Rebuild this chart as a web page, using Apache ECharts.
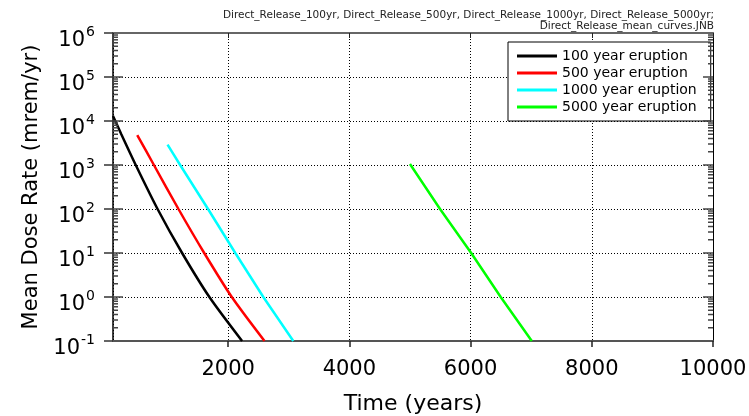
<!DOCTYPE html>
<html>
<head>
<meta charset="utf-8">
<script src="https://cdn.jsdelivr.net/npm/echarts@6/dist/echarts.min.js"></script>
<style>
html, body { margin: 0; padding: 0; background: #fff; }
#main { width: 749px; height: 416px; }
</style>
</head>
<body>
<div id="main"></div>
<script>
// curves: time (years) and mean dose rate (mrem/yr)
var names = ['100 year eruption', '500 year eruption', '1000 year eruption', '5000 year eruption'];
var colors = ['#000000', '#ff0000', '#00ffff', '#00ff00'];

var years100 = [100, 237, 475, 835, 1240, 1690, 2230];
var dose100 = [13000, 5000, 1000, 100, 10, 1, 0.1];

var years500 = [500, 775, 1180, 1605, 2060, 2600];
var dose500 = [4800, 1000, 100, 10, 1, 0.1];

var years1000 = [1000, 1208, 1668, 2118, 2580, 3075];
var dose1000 = [2900, 1000, 100, 10, 1, 0.1];

var years5000 = [5000, 5496, 6010, 6497, 7010];
var dose5000 = [1050, 100, 10, 1, 0.1];

var xMin = 100, xMax = 10000;
var yMin = 0.1, yMax = 1e6;

var header = 'Direct_Release_100yr, Direct_Release_500yr, Direct_Release_1000yr, Direct_Release_5000yr;\nDirect_Release_mean_curves.JNB';

// log minor ticks 2..9 in each decade, inner part of the major ticks
var decades = [-1, 0, 1, 2, 3, 4, 5];
var tickMarks = [];
decades.forEach(function (d) {
    var base = Math.pow(10, d);
    if (d >= 0) tickMarks.push([xMin, base, 10]);
    for (var k = 2; k <= 9; k++) tickMarks.push([xMin, k * base, 5]);
});

function pairs(xs, ys) {
    return xs.map(function (x, i) { return [x, ys[i]]; });
}

var font = 'DejaVu Sans';
var myChart = echarts.init(document.getElementById('main'));

var lineSeries = [
    pairs(years100, dose100),
    pairs(years500, dose500),
    pairs(years1000, dose1000),
    pairs(years5000, dose5000)
].map(function (d, i) {
    return {
        name: names[i],
        type: 'line',
        data: d,
        showSymbol: false,
        symbol: 'none',
        smooth: i < 2 ? 0.25 : false,
        color: colors[i],
        lineStyle: { color: colors[i], width: 2.5 },
        itemStyle: { color: colors[i] },
        z: 3
    };
});

var option = {
    animation: false,
    backgroundColor: '#fff',
    grid: { left: 113, right: 36, top: 33, bottom: 75, outerBoundsMode: 'none' },
    graphic: [{
        type: 'text',
        x: 714, y: 10,
        style: {
            text: header,
            align: 'right',
            font: '10.5px "DejaVu Sans"',
            fill: '#222',
            lineHeight: 11
        }
    }],
    legend: {
        orient: 'vertical',
        left: 508,
        top: 42,
        itemWidth: 40,
        itemHeight: 3,
        itemGap: 3,
        icon: 'rect',
        padding: [7, 14, 7, 9],
        borderColor: '#000',
        borderWidth: 1,
        backgroundColor: '#fff',
        textStyle: { fontSize: 14, fontFamily: font, color: '#000', lineHeight: 14 },
        data: names,
        z: 5
    },
    xAxis: [{
        type: 'value',
        min: xMin,
        max: xMax,
        splitNumber: 5,
        name: 'Time (years)',
        nameLocation: 'middle',
        nameGap: 52,
        nameTextStyle: { fontSize: 22, fontFamily: font, color: '#000' },
        axisLine: { show: true, onZero: false, lineStyle: { color: '#555', width: 2 } },
        axisTick: { show: true, length: 6, lineStyle: { color: '#222', width: 1.5 } },
        axisLabel: {
            showMinLabel: false, margin: 18, fontSize: 21, fontFamily: font, color: '#000',
            formatter: function (v) { return String(v); }
        },
        splitLine: { show: true, lineStyle: { color: '#000', width: 1, type: [1, 2] } }
    }, {
        type: 'value',
        position: 'top',
        min: xMin,
        max: xMax,
        splitNumber: 5,
        axisLine: { show: true, onZero: false, lineStyle: { color: '#666', width: 2 } },
        axisTick: { show: true, inside: true, length: 5, lineStyle: { color: '#222' } },
        axisLabel: { show: false },
        splitLine: { show: false }
    }],
    yAxis: [{
        type: 'log',
        logBase: 10,
        min: yMin,
        max: yMax,
        splitNumber: 7,
        name: 'Mean Dose Rate (mrem/yr)',
        nameLocation: 'middle',
        nameGap: 70,
        nameTextStyle: { fontSize: 21, fontFamily: font, color: '#000' },
        axisLine: { show: true, onZero: false, lineStyle: { color: '#000', width: 1.5 } },
        axisTick: { show: true, length: 9, lineStyle: { color: '#333', width: 1.5 } },
        axisLabel: {
            margin: 18,
            padding: [16, 0, 0, 0],
            formatter: function (v) {
                return '{b|10}{s|' + Math.round(Math.log10(v)) + '}';
            },
            rich: {
                b: { fontSize: 21, lineHeight: 31, fontFamily: font, color: '#000' },
                s: { fontSize: 14, lineHeight: 14, fontFamily: font, color: '#000', verticalAlign: 'top', padding: [0, 0, 0, 1] }
            }
        },
        splitLine: { show: true, lineStyle: { color: '#000', width: 1, type: [1, 2] } }
    }, {
        type: 'log',
        logBase: 10,
        min: yMin,
        max: yMax,
        position: 'right',
        axisLine: { show: true, onZero: false, lineStyle: { color: '#000', width: 1 } },
        axisTick: { show: false },
        axisLabel: { show: false },
        splitLine: { show: false }
    }],
    series: lineSeries.concat([{
        name: 'ticks',
        type: 'custom',
        silent: true,
        clip: false,
        z: 6,
        data: tickMarks,
        encode: { x: 0, y: 1 },
        renderItem: function (params, api) {
            var v = api.value(1);
            var len = api.value(2);
            var pL = api.coord([xMin, v]);
            var pR = api.coord([xMax, v]);
            var st = { stroke: '#444', lineWidth: 1.5 };
            return {
                type: 'group',
                children: [
                    { type: 'line', shape: { x1: pL[0], y1: pL[1], x2: pL[0] + len, y2: pL[1] }, style: st },
                    { type: 'line', shape: { x1: pR[0] - len, y1: pR[1], x2: pR[0], y2: pR[1] }, style: st }
                ]
            };
        }
    }])
};

myChart.setOption(option);
</script>
</body>
</html>
